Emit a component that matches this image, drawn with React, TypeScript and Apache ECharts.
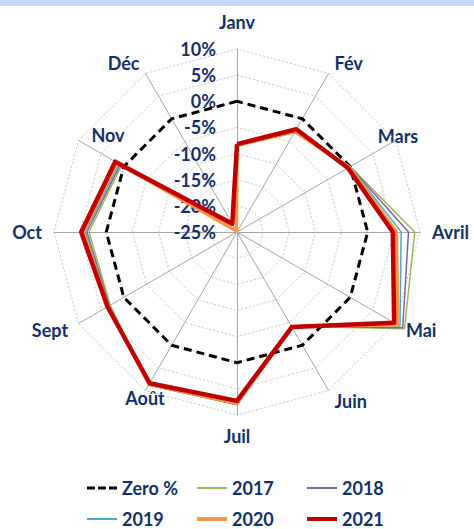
import React, { useEffect, useRef } from "react";
import * as echarts from "echarts";

const months = ["Janv", "Fév", "Mars", "Avril", "Mai", "Juin", "Juil", "Août", "Sept", "Oct", "Nov", "Déc"];
const zero = [0, 0, 0, 0, 0, 0, 0, 0, 0, 0, 0, 0];
const y2017 = [-8.5, -3.0, 0.0, 9.0, 12.0, -4.2, 8.0, 8.8, 3.0, 3.3, 0.5, -24.8];
const y2018 = [-8.5, -3.0, 0.0, 7.8, 11.6, -4.2, 8.0, 8.8, 3.2, 3.7, 0.8, -24.8];
const y2019 = [-8.5, -3.0, 0.0, 6.4, 11.0, -4.2, 8.0, 8.7, 3.4, 4.0, 1.1, -24.8];
const y2020 = [-8.4, -2.8, -0.2, 5.5, 10.5, -4.1, 7.8, 8.6, 3.5, 4.4, 1.5, -24.8];
const y2021 = [-8.2, -2.3, -0.5, 4.8, 9.7, -4.0, 7.3, 8.4, 3.6, 4.8, 1.9, -23.2];
const axisMin = -25;
const axisMax = 10;

// month names that the original chart places off their usual spot (drawn separately)
const movedNames = ["Janv", "Mars", "Août", "Nov"];

const NAVY = "#13306b";
const FONT = "Lato, 'Noto Sans', sans-serif";

// ECharts lays indicators out counter-clockwise; reorder so months run clockwise.
const order = months.map((_, i) => (i === 0 ? 0 : months.length - i));
const reorder = <T,>(arr: T[]) => order.map((k) => arr[k]);

export default function App() {
  const ref = useRef<HTMLDivElement>(null);
  useEffect(() => {
    if (!ref.current) return;
    const chart = echarts.init(ref.current, undefined, { renderer: "svg" });
    const seriesDefs = [
      { name: "Zero %", data: zero, color: "#000000", width: 3, type: [8, 5] as any, icon: "path://M0,0h8v3h-8z M11,0h8v3h-8z M22,0h8v3h-8z", h: 3 },
      { name: "2017", data: y2017, color: "#9bbb59", width: 1.5, type: "solid", icon: "path://M0,0h30v2h-30z", h: 2 },
      { name: "2018", data: y2018, color: "#8064a2", width: 1.5, type: "solid", icon: "path://M0,0h30v2h-30z", h: 2 },
      { name: "2019", data: y2019, color: "#4bacc6", width: 1.5, type: "solid", icon: "path://M0,0h30v2h-30z", h: 2 },
      { name: "2020", data: y2020, color: "#f79646", width: 3.5, type: "solid", icon: "path://M0,0h30v4h-30z", h: 4 },
      { name: "2021", data: y2021, color: "#c00000", width: 4.5, type: "solid", icon: "path://M0,0h30v4h-30z", h: 4 },
    ];
    const legendPos = [
      [87, 479], [197, 479], [307, 479],
      [87, 510], [197, 510], [307, 510],
    ];
    const nameStyle = { fill: NAVY, fontFamily: FONT, fontWeight: "bold", fontSize: 18, align: "center", verticalAlign: "middle" };
    const movedPos: Record<string, [number, number]> = { Janv: [237, 22], Mars: [398, 136], "Août": [145, 398], Nov: [108, 135] };
    chart.setOption({
      animation: false,
      graphic: [
        { type: "rect", left: 0, top: 0, shape: { width: 474, height: 6 }, style: { fill: "#c6d9f1" } },
        ...movedNames.map((n) => ({
          type: "text",
          x: movedPos[n][0],
          y: movedPos[n][1],
          style: { ...nameStyle, text: n },
        })),
      ],
      legend: seriesDefs.map((s, i) => ({
        left: legendPos[i][0],
        top: legendPos[i][1],
        padding: 0,
        itemWidth: 30,
        itemHeight: s.h,
        itemGap: 4,
        data: [{ name: s.name, icon: s.icon }],
        textStyle: { color: NAVY, fontFamily: FONT, fontWeight: "bold", fontSize: 18 },
        selectedMode: false,
      })),
      radar: {
        center: [237, 232],
        radius: 183,
        startAngle: 90,
        shape: "polygon",
        splitNumber: 7,
        nameGap: 12,
        axisName: {
          color: NAVY,
          fontFamily: FONT,
          fontWeight: "bold",
          fontSize: 18,
          formatter: (n: string) => (movedNames.includes(n) ? "" : n),
        },
        axisLine: { lineStyle: { color: "#a6a6a6", width: 1 } },
        splitLine: { lineStyle: { color: "#c8c8c8", width: 1, type: [2, 2] } },
        splitArea: { show: false },
        axisTick: { show: false },
        axisLabel: {
          show: false,
          color: NAVY,
          fontFamily: FONT,
          fontWeight: "bold",
          fontSize: 18,
          margin: 21,
          formatter: (v: number) => `${v}%`,
        },
        indicator: reorder(months).map((m, i) => ({
          name: m,
          min: axisMin,
          max: axisMax,
          ...(i === 0 ? { axisLabel: { show: true } } : {}),
        })),
      },
      series: seriesDefs.map((s) => ({
        type: "radar",
        name: s.name,
        symbol: "none",
        color: s.color,
        lineStyle: { color: s.color, width: s.width, type: s.type },
        data: [{ name: s.name, value: reorder(s.data) }],
      })),
    });
    return () => chart.dispose();
  }, []);
  return <div ref={ref} style={{ position: "absolute", left: 0, top: 0, width: 474, height: 529 }} />;
}
